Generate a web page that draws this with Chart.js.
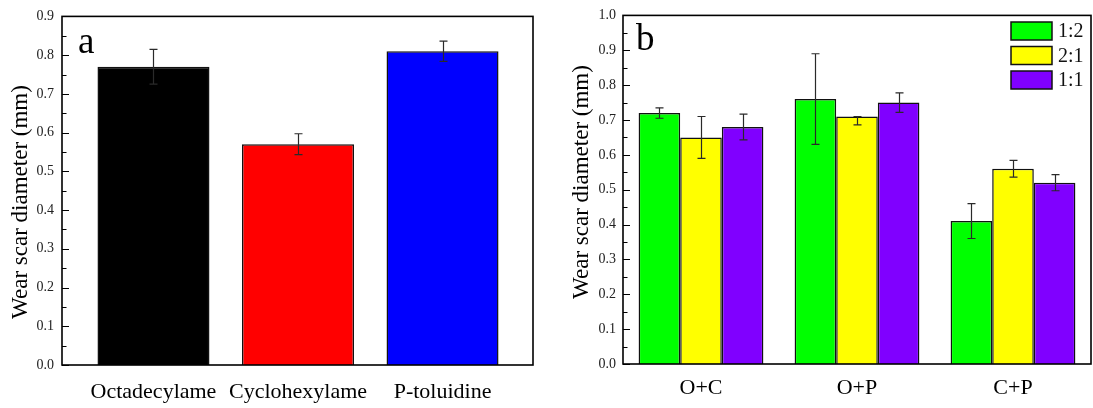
<!DOCTYPE html>
<html><head><meta charset="utf-8">
<script src="https://cdn.jsdelivr.net/npm/chart.js@4.4.0/dist/chart.umd.min.js"></script>
<style>
html,body{margin:0;padding:0;background:#fff;width:1093px;height:408px;overflow:hidden}
.box{position:absolute;top:0;height:408px}
#wa{left:0;width:548px}
#wb{left:548px;width:545px}
canvas{display:block}
</style></head><body>
<div class="box" id="wa"><canvas id="ca" width="548" height="408"></canvas></div>
<div class="box" id="wb"><canvas id="cb" width="545" height="408"></canvas></div>
<script>
// ---------- data: panel a ----------
const aCategories = ['Octadecylame', 'Cyclohexylame', 'P-toluidine'];
const aValues = [0.77, 0.57, 0.81];
const aErrUp = [0.045, 0.027, 0.026];
const aErrDown = [0.045, 0.027, 0.026];
const aColors = ['#000000', '#ff0000', '#0000ff'];
const aTickLabels = ['0.0','0.1','0.2','0.3','0.4','0.5','0.6','0.7','0.8','0.9'];

// ---------- data: panel b ----------
const bCategories = ['O+C', 'O+P', 'C+P'];
const bSeries = ['1:2', '2:1', '1:1'];
const b12 = [0.72, 0.76, 0.41];
const b21 = [0.65, 0.71, 0.56];
const b11 = [0.68, 0.75, 0.52];
const b12ErrUp = [0.015, 0.13, 0.05];
const b12ErrDown = [0.015, 0.13, 0.05];
const b21ErrUp = [0.06, 0.0, 0.024];
const b21ErrDown = [0.06, 0.024, 0.024];
const b11ErrUp = [0.037, 0.028, 0.023];
const b11ErrDown = [0.037, 0.028, 0.023];
const bColors = ['#00ff00', '#ffff00', '#8000ff'];
const bTickLabels = ['0.0','0.1','0.2','0.3','0.4','0.5','0.6','0.7','0.8','0.9','1.0'];

const SERIF = "'Liberation Serif', 'Times New Roman', serif";

// ---------- shared plugin: frame, inward ticks, error bars, titles ----------
function makeDecor(cfg) {
  return {
    id: 'decor' + cfg.name,
    afterDatasetsDraw(chart) {
      const ctx = chart.ctx;
      const ca = chart.chartArea;
      const y = chart.scales.y;
      // error bars
      ctx.save();
      ctx.strokeStyle = '#2a2a2a';
      ctx.lineWidth = 1.2;
      chart.data.datasets.forEach((ds, di) => {
        const meta = chart.getDatasetMeta(di);
        meta.data.forEach((bar, i) => {
          const v = ds.errBase[i];
          const up = ds.errUp[i], dn = ds.errDown[i];
          const x = Math.round(bar.x) + 0.5;
          const yt = y.getPixelForValue(v + up);
          const yb = y.getPixelForValue(v - dn);
          const cap = 4;
          ctx.beginPath();
          ctx.moveTo(x, yt); ctx.lineTo(x, yb);
          ctx.moveTo(x - cap, yt); ctx.lineTo(x + cap, yt);
          ctx.moveTo(x - cap, yb); ctx.lineTo(x + cap, yb);
          ctx.stroke();
        });
      });
      ctx.restore();
      // frame
      ctx.save();
      ctx.strokeStyle = '#000';
      ctx.lineWidth = 1.6;
      ctx.strokeRect(ca.left, ca.top, ca.right - ca.left, ca.bottom - ca.top);
      // inward ticks (major 0.1, minor 0.05)
      ctx.lineWidth = 1.2;
      ctx.beginPath();
      const n = Math.round(y.max / 0.05);
      for (let k = 0; k <= n; k++) {
        const py = Math.round(y.getPixelForValue(k * 0.05)) + 0.5;
        const len = (k % 2 === 0) ? 7 : 4.5;
        ctx.moveTo(ca.left, py); ctx.lineTo(ca.left + len, py);
      }
      ctx.stroke();
      // y title
      ctx.fillStyle = '#000';
      ctx.font = '23px ' + SERIF;
      ctx.textAlign = 'center';
      ctx.textBaseline = 'middle';
      ctx.translate(cfg.titleX, cfg.titleY);
      ctx.rotate(-Math.PI / 2);
      ctx.fillText('Wear scar diameter (mm)', 0, 0);
      ctx.restore();
      // panel letter
      ctx.save();
      ctx.fillStyle = '#000';
      ctx.font = '37px ' + SERIF;
      ctx.textAlign = 'left';
      ctx.textBaseline = 'alphabetic';
      ctx.fillText(cfg.letter, cfg.letterX, cfg.letterY);
      ctx.restore();
      // legend
      if (cfg.legend) {
        ctx.save();
        ctx.font = '20px ' + SERIF;
        ctx.textBaseline = 'middle';
        ctx.textAlign = 'left';
        chart.data.datasets.forEach((ds, di) => {
          const top = cfg.legend.y + di * cfg.legend.step;
          ctx.fillStyle = ds.backgroundColor;
          ctx.fillRect(cfg.legend.x, top, cfg.legend.w, cfg.legend.h);
          ctx.strokeStyle = '#111';
          ctx.lineWidth = 1.5;
          ctx.strokeRect(cfg.legend.x, top, cfg.legend.w, cfg.legend.h);
          ctx.fillStyle = '#111';
          ctx.fillText(ds.label, cfg.legend.x + cfg.legend.w + 6, top + cfg.legend.h / 2 + 1);
        });
        ctx.restore();
      }
    }
  };
}

function yScale(max, labels, width, pad) {
  return {
    min: 0, max: max,
    afterFit(s) { s.width = width; },
    afterBuildTicks(s) { s.ticks = labels.map((l, i) => ({ value: i / 10 })); },
    ticks: {
      padding: pad,
      color: '#222',
      font: { family: SERIF, size: 14 },
      callback: (v, i) => labels[i]
    },
    grid: { display: false, drawTicks: false },
    border: { display: false }
  };
}

// ---------- chart a ----------
new Chart(document.getElementById('ca'), {
  type: 'bar',
  data: {
    datasets: [{
      data: aValues.map((v, i) => ({ x: i, y: v })),
      backgroundColor: aColors,
      borderColor: '#111',
      borderWidth: 1.5,
      errBase: aValues, errUp: aErrUp, errDown: aErrDown
    }]
  },
  options: {
    responsive: false, animation: false,
    layout: { padding: { top: 15, right: 15, left: 0, bottom: 0 } },
    categoryPercentage: 1.0, barPercentage: 0.775,
    plugins: { legend: { display: false }, tooltip: { enabled: false } },
    scales: {
      x: {
        type: 'linear', offset: false, min: -0.633, max: 2.626,
        afterFit(s) { s.height = 408 - 365; },
        afterBuildTicks(s) { s.ticks = aCategories.map((c, i) => ({ value: i })); },
        ticks: {
          padding: 14, color: '#000', maxRotation: 0, autoSkip: false,
          font: { family: SERIF, size: 22 },
          callback: (v) => aCategories[v]
        },
        grid: { display: false, drawTicks: false },
        border: { display: false }
      },
      y: yScale(0.9, aTickLabels, 62, 8)
    }
  },
  plugins: [makeDecor({ name: 'a', titleX: 21, titleY: 202, letter: 'a', letterX: 78, letterY: 53 })]
});

// ---------- chart b ----------
new Chart(document.getElementById('cb'), {
  type: 'bar',
  data: {
    labels: bCategories,
    datasets: [
      { label: bSeries[0], data: b12, backgroundColor: bColors[0], borderColor: '#111', borderWidth: 1.5,
        errBase: b12, errUp: b12ErrUp, errDown: b12ErrDown },
      { label: bSeries[1], data: b21, backgroundColor: bColors[1], borderColor: '#111', borderWidth: 1.5,
        errBase: b21, errUp: b21ErrUp, errDown: b21ErrDown },
      { label: bSeries[2], data: b11, backgroundColor: bColors[2], borderColor: '#111', borderWidth: 1.5,
        errBase: b11, errUp: b11ErrUp, errDown: b11ErrDown }
    ]
  },
  options: {
    responsive: false, animation: false,
    layout: { padding: { top: 12, right: 2, left: 0, bottom: 0 } },
    categoryPercentage: 0.8, barPercentage: 1.0,
    plugins: { legend: { display: false }, tooltip: { enabled: false } },
    scales: {
      x: {
        afterFit(s) { s.height = 408 - 364; },
        ticks: {
          padding: 11, color: '#000', maxRotation: 0, autoSkip: false,
          font: { family: SERIF, size: 22 }
        },
        grid: { display: false, drawTicks: false },
        border: { display: false }
      },
      y: yScale(1.0, bTickLabels, 75, 7)
    }
  },
  plugins: [makeDecor({ name: 'b', titleX: 33.5, titleY: 182, letter: 'b', letterX: 88, letterY: 50,
    legend: { x: 463, y: 22, w: 41, h: 18, step: 24.5 } })]
});
</script>
</body></html>
